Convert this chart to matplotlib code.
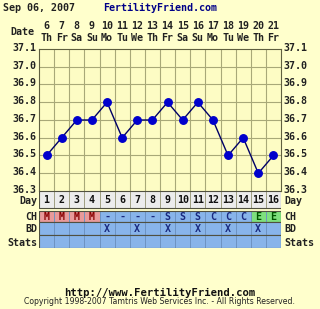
import matplotlib.pyplot as plt
import matplotlib.transforms as mtransforms
import numpy as np

# chart data
days = list(range(1, 17))
dates = [6, 7, 8, 9, 10, 11, 12, 13, 14, 15, 16, 17, 18, 19, 20, 21]
weekdays = ['Th', 'Fr', 'Sa', 'Su', 'Mo', 'Tu', 'We', 'Th',
            'Fr', 'Sa', 'Su', 'Mo', 'Tu', 'We', 'Th', 'Fr']
temps = [36.5, 36.6, 36.7, 36.7, 36.8, 36.6, 36.7, 36.7,
         36.8, 36.7, 36.8, 36.7, 36.5, 36.6, 36.4, 36.5]
cm = ['M', 'M', 'M', 'M', '-', '-', '-', '-',
      'S', 'S', 'S', 'C', 'C', 'C', 'E', 'E']
bd = ['', '', '', '', 'X', '', 'X', '', 'X', '', 'X', '', 'X', '', 'X', '']
temp_ticks = [36.3, 36.4, 36.5, 36.6, 36.7, 36.8, 36.9, 37.0, 37.1]

W, H = 320, 309
bg = '#ffffcc'
grid_c = '#a8a878'
font = dict(family='DejaVu Sans Mono', weight='bold', size=7.2)

fig = plt.figure(figsize=(W / 100, H / 100), dpi=100, facecolor=bg)

def fx(px):
    return px / W

def fy(py):
    return 1 - py / H

# temperature chart
left, right = 39, 281
ax = fig.add_axes([fx(left), fy(191), fx(right - left), (191 - 49) / H])
ax.set_facecolor('#fdfcc4')
ax.set_xlim(0.5, 16.5)
ax.set_ylim(36.3, 37.1)
for x in np.arange(1.5, 16.5, 1):
    ax.axvline(x, color=grid_c, lw=0.8)
for t in temp_ticks[1:-1]:
    ax.axhline(t, color=grid_c, lw=0.8)
ax.plot(days, temps, color='#000066', lw=1.0, marker='o', ms=5.4,
        mfc='#0000cc', mec='#0000cc', zorder=3, clip_on=False)
ax.set_xticks([])
ax.set_yticks(temp_ticks)
ax.set_yticklabels(['%.1f' % t for t in temp_ticks], fontdict=font, color='#222222')
ax.tick_params(axis='y', length=0, pad=2, labelright=True, labelleft=True)
# labels sit a little above their grid lines
up = mtransforms.ScaledTranslation(0, 0.02, fig.dpi_scale_trans)
for tk in ax.yaxis.get_major_ticks():
    tk.label1.set_transform(tk.label1.get_transform() + up)
    tk.label2.set_transform(tk.label2.get_transform() + up)
for s in ax.spines.values():
    s.set_color('#606040')
    s.set_linewidth(0.8)

# table rows below the chart
rows = [('Day', 191, 208), ('CH', 210.5, 222), ('BD', 222, 235), ('Stats', 235, 248)]
tab = fig.add_axes([fx(left), fy(248), fx(right - left), (248 - 191) / H])
tab.set_xlim(0.5, 16.5)
tab.set_ylim(248, 191)
tab.axis('off')
blue = '#88b4ea'
for name, y0, y1 in rows:
    for i, d in enumerate(days):
        if name == 'Day':
            fc = '#ececec'
        elif name == 'CH' and cm[i] == 'M':
            fc = '#e89a9a'
        elif name == 'CH' and cm[i] == 'E':
            fc = '#7ee07e'
        else:
            fc = blue
        ec = '#9a9a7a' if name == 'Day' else '#6a90c0'
        tab.add_patch(plt.Rectangle((d - 0.5, y0), 1, y1 - y0, fc=fc, ec=ec, lw=0.6))
        ym = (y0 + y1) / 2 + 0.5
        if name == 'Day':
            tab.text(d, ym, str(d), ha='center', va='center', color='#111111', **font)
        elif name == 'CH':
            c = '#880000' if cm[i] == 'M' else ('#005500' if cm[i] == 'E' else '#1a2a80')
            tab.text(d, ym, cm[i], ha='center', va='center', color=c, **font)
        elif name == 'BD' and bd[i]:
            tab.text(d, ym, bd[i], ha='center', va='center', color='#1a2a80', **font)
    tab.add_patch(plt.Rectangle((0.5, y0), 16, y1 - y0, fc='none', ec='#505040', lw=0.8))
    fig.text(fx(37), fy((y0 + y1) / 2 + 1), name, ha='right', va='center', color='#222222', **font)
    fig.text(fx(284), fy((y0 + y1) / 2 + 1), name, ha='left', va='center', color='#222222', **font)

# date header
colw = (right - left) / 16
for i in range(16):
    cx = left + colw * (i + 0.5)
    fig.text(fx(cx), fy(26), str(dates[i]), ha='center', va='center', color='#222222', **font)
    fig.text(fx(cx), fy(38), weekdays[i], ha='center', va='center', color='#222222', **font)
fig.text(fx(22), fy(32), 'Date', ha='center', va='center', color='#222222', **font)

# titles and footer
fig.text(fx(3), fy(8), 'Sep 06, 2007', ha='left', va='center', color='#222222', **font)
fig.text(fx(160), fy(8), 'FertilityFriend.com', ha='center', va='center',
         color='#000088', **font)
fig.text(0.5, fy(293), 'http://www.FertilityFriend.com', ha='center', va='center',
         color='#111111', **dict(font, size=7.6))
fig.text(0.5, fy(302), 'Copyright 1998-2007 Tamtris Web Services Inc. - All Rights Reserved.',
         ha='center', va='center', color='#222222', family='DejaVu Sans', size=5.6)

fig.savefig('out.png', dpi=100, facecolor=bg)
